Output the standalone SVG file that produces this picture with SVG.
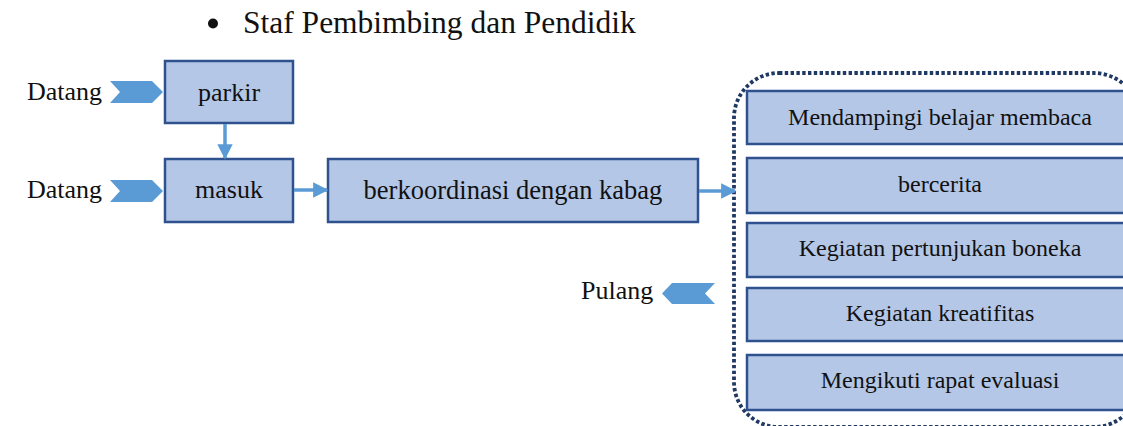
<svg xmlns="http://www.w3.org/2000/svg" width="1123" height="426" viewBox="0 0 1123 426">
  <defs>
    <style>
      .txt { font-family: "Liberation Serif", "Times New Roman", serif; fill: #111; }
      .box { fill: #b4c7e7; stroke: #2f528f; stroke-width: 2.5; }
      .flow { stroke: #5b9bd5; stroke-width: 3.5; fill: none; }
      .chev { fill: #5b9bd5; }
      .group { fill: none; stroke: #1f3864; stroke-width: 3.8; stroke-dasharray: 3.4 2.4; }
    </style>
    <marker id="arrow" viewBox="0 0 10 10" refX="9" refY="5" markerWidth="4.4" markerHeight="4.4" orient="auto" markerUnits="strokeWidth">
      <path d="M0,0 L10,5 L0,10 Z" fill="#5b9bd5"/>
    </marker>
  </defs>
  <rect width="1123" height="426" fill="#ffffff"/>

  <!-- heading -->
  <g id="heading">
    <circle cx="213" cy="23.5" r="5" fill="#111"/>
    <text class="txt" x="243" y="33" font-size="31.5">Staf Pembimbing dan Pendidik</text>
  </g>

  <!-- entry markers -->
  <g id="datang1">
    <text class="txt" x="27" y="100" font-size="26">Datang</text>
    <polygon class="chev" points="110,81 152,81 163,92 152,103 110,103 120,92"/>
  </g>
  <g id="datang2">
    <text class="txt" x="27" y="198" font-size="26">Datang</text>
    <polygon class="chev" points="110,180 152,180 163,191 152,202 110,202 120,191"/>
  </g>
  <g id="pulang">
    <text class="txt" x="581" y="299" font-size="26">Pulang</text>
    <polygon class="chev" points="715,283 672,283 662,293.5 672,304 715,304 705,293.5"/>
  </g>

  <!-- process steps -->
  <g id="parkir">
    <rect class="box" x="165" y="61" width="128" height="62"/>
    <text class="txt" x="229" y="101" font-size="26" text-anchor="middle">parkir</text>
  </g>
  <g id="masuk">
    <rect class="box" x="165" y="159" width="128" height="63"/>
    <text class="txt" x="229" y="198" font-size="26" text-anchor="middle">masuk</text>
  </g>
  <g id="berkoordinasi">
    <rect class="box" x="328" y="159" width="370" height="63"/>
    <text class="txt" x="513" y="199" font-size="26.5" text-anchor="middle">berkoordinasi dengan kabag</text>
  </g>

  <!-- activity group -->
  <g id="kegiatan">
    <rect class="group" x="734" y="73" width="405" height="354" rx="45" ry="45"/>
    <g id="k1">
      <rect class="box" x="747" y="91" width="390" height="53"/>
      <text class="txt" x="940" y="125" font-size="24" text-anchor="middle">Mendampingi belajar membaca</text>
    </g>
    <g id="k2">
      <rect class="box" x="747" y="158" width="390" height="55"/>
      <text class="txt" x="940" y="192" font-size="24" text-anchor="middle">bercerita</text>
    </g>
    <g id="k3">
      <rect class="box" x="747" y="223" width="390" height="54"/>
      <text class="txt" x="940" y="256" font-size="24" text-anchor="middle">Kegiatan pertunjukan boneka</text>
    </g>
    <g id="k4">
      <rect class="box" x="747" y="288" width="390" height="53"/>
      <text class="txt" x="940" y="321" font-size="24" text-anchor="middle">Kegiatan kreatifitas</text>
    </g>
    <g id="k5">
      <rect class="box" x="747" y="355" width="390" height="55"/>
      <text class="txt" x="940" y="388" font-size="24" text-anchor="middle">Mengikuti rapat evaluasi</text>
    </g>
  </g>

  <!-- connectors -->
  <g id="connectors">
    <line class="flow" x1="225" y1="124" x2="225" y2="158" marker-end="url(#arrow)"/>
    <line class="flow" x1="294" y1="190" x2="327" y2="190" marker-end="url(#arrow)"/>
    <line class="flow" x1="699" y1="191" x2="735" y2="191" marker-end="url(#arrow)"/>
  </g>
</svg>
